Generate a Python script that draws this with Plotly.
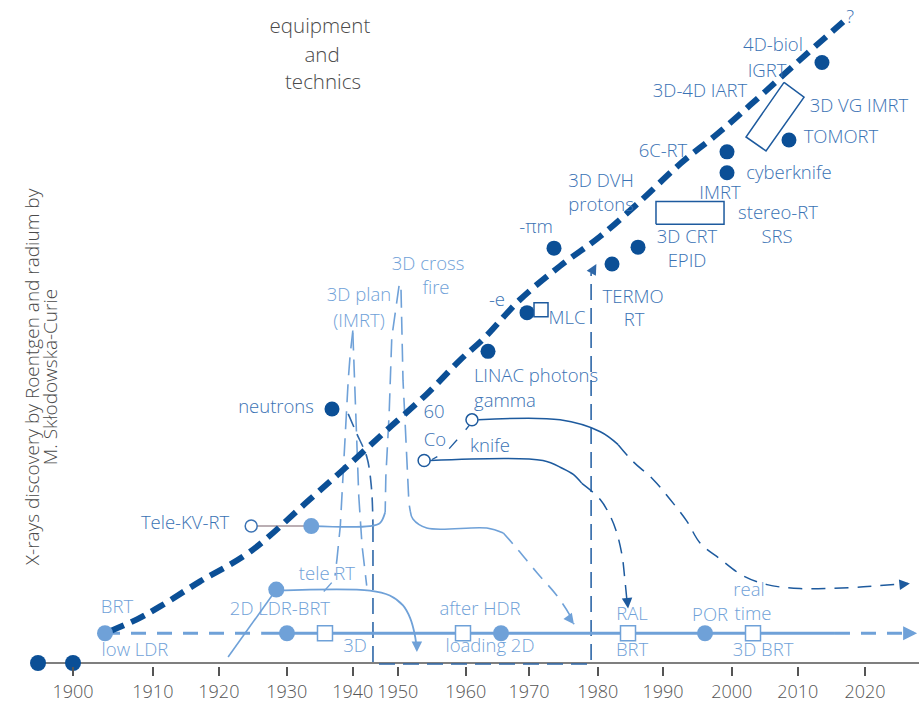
import plotly.graph_objects as go

# Colours
DARK = "#0b4f96"
DARK_LINE = "#1d5a9e"
FRAME = "#2e67a8"
MID = "#3a72b4"
LIGHT = "#6fa1d8"
GRAY = "#4a4a4a"
AXIS = "#555555"
FONT = "Open Sans, Noto Sans, sans-serif"
LABEL_SIZE = 18.5

# x = position on the drawing's time scale (years), y = level above the time axis
x_range = [1888.94, 2028.18]
y_range = [-3, 668]

tick_labels = ["1900", "1910", "1920", "1930", "1940", "1950", "1960",
               "1970", "1980", "1990", "2000", "2010", "2020"]
tick_pos = [1900.0, 1912.1, 1922.1, 1932.4, 1942.4, 1949.2, 1959.5,
            1969.1, 1979.5, 1989.4, 1999.8, 2009.8, 2020.0]

# discovery dots on the time axis
discovery_x = [1894.7, 1900.0]
discovery_y = [0, 0]
axis_line_x = [1894.7, 2028.18]
axis_line_y = [0, 0]

# main "equipment and technics" trend (thick dashed)
trend_x = [1905.6, 1909.7, 1913.2, 1919.2, 1926.8, 1935.9, 1942.0, 1947.6, 1953.6,
           1958.6, 1962.4, 1967.7, 1973.8, 1979.9, 1985.9, 1992.0, 1997.6, 2003.6,
           2009.7, 2016.7]
trend_y = [32, 44, 57, 82, 112, 165, 201, 235, 271, 305, 328, 366, 400, 430, 465,
           503, 533, 568, 605, 646]

# brachytherapy timeline
brt_level = 30
brt_dash1_x = [1904.85, 1928.6]
brt_solid_x = [1928.6, 2015.45]
brt_dash2_x = [2015.45, 2027.4]
brt_dots_x = [1904.85, 1932.42, 1964.85, 1995.76]
brt_squares_x = [1938.18, 1959.09, 1984.09, 2003.03]

# tele RT branch
tele_start_x = [1923.5, 1930.8]
tele_start_y = [6, 74]
tele_dot = ([1930.8], [74])
tele_x = [1930.8, 1945.0, 1948.0, 1950.0, 1951.1, 1951.8, 1952.1]
tele_y = [73, 73, 68, 58, 45, 28, 13]
tele_hook_x = [1938.0, 1939.2]
tele_hook_y = [72, 81]

# Tele-KV-RT branch
kv_open = ([1927.0], [138])
kv_gray_x = [1927.8, 1936.1]
kv_gray_y = [138, 138]
kv_dot = ([1936.1], [138])
kv_x = [1936.1, 1945.0, 1946.5, 1947.3]
kv_y = [138, 138, 141, 152]

# 3D cross fire lines
cross_left_x = [1949.4, 1948.3, 1947.9, 1947.4, 1947.3]
cross_left_y = [380, 328, 251, 188, 152]
cross_right_dash_x = [1949.7, 1950.0, 1950.3, 1950.6, 1950.9, 1951.1]
cross_right_dash_y = [376, 285, 245, 205, 161, 153]
cross_right_solid_x = [1951.1, 1951.5, 1953.6, 1962.7, 1965.2]
cross_right_solid_y = [153, 145, 136, 136, 131]
cross_right_tail_x = [1965.2, 1967.3, 1970.3, 1973.3, 1975.3, 1975.9]
cross_right_tail_y = [131, 115, 91, 68, 48, 39]

# 3D plan (IMRT) lines
plan_left_x = [1942.4, 1942.0, 1941.7, 1941.4, 1941.1, 1940.5, 1940.0, 1939.7]
plan_left_y = [335, 311, 285, 251, 205, 138, 105, 88]
plan_right_x = [1942.4, 1942.9, 1943.3, 1943.8, 1944.5]
plan_right_y = [333, 248, 168, 118, 78]

# dark dashed frame
frame_curve_x = [1941.7, 1943.0, 1944.5, 1945.2, 1945.45]
frame_curve_y = [251, 231, 208, 178, 138]
frame_x = [1945.45, 1945.45, 1978.5, 1978.5]
frame_y = [138, -1, -1, 393]

# 60Co gamma / knife
gamma_open = ([1960.45], [245])
gamma_solid_x = [1961.4, 1973.8, 1979.9, 1982.6]
gamma_solid_y = [245, 245, 233, 220]
gamma_dash_x = [1982.6, 1984.85, 1987.9, 1990.45, 1993.0, 1995.0, 1998.0, 2001.5,
                2005.15, 2010.15, 2017.7, 2022.3, 2026.5]
gamma_dash_y = [220, 203, 185, 165, 143, 121, 105, 88, 79, 75, 76, 78, 80]
knife_open = ([1953.2], [204])
knife_solid_x = [1954.1, 1971.2, 1974.2, 1975.8, 1977.1]
knife_solid_y = [204, 204, 196, 190, 181]
knife_dash_x = [1977.1, 1979.85, 1981.4, 1982.4, 1983.2, 1983.6, 1984.0]
knife_dash_y = [181, 165, 148, 131, 108, 85, 58]
co_slash_x = [1957.0, 1958.2]
co_slash_y = [216, 225]
gamma_tick_x = [1959.5, 1960.1]
gamma_tick_y = [235, 240]
knife_tick_x = [1954.4, 1955.2]
knife_tick_y = [205, 208]

# dark dots (teleradiotherapy modalities)
dark_dots_x = [1939.24, 1962.88, 1968.79, 1972.88, 1981.67, 1985.61, 1999.09,
               1999.09, 2008.48, 2013.48]
dark_dots_y = [256, 314, 353, 418, 402, 419, 494, 515, 527, 605]
mlc_square = ([1970.91], [356])
imrt_box_x = [1988.33, 1998.64]
imrt_box_y = [442, 465]
vg_box_x = [2007.73, 2010.76, 2005.0, 2001.97]
vg_box_y = [585, 570, 516, 530]

# labels
mid_text = ["neutrons", "Tele-KV-RT", "60", "Co", "gamma", "knife", "LINAC photons",
            "-e", "MLC", "-πm", "TERMO", "RT", "3D CRT", "EPID", "3D DVH", "protons",
            "IMRT", "stereo-RT", "SRS", "cyberknife", "6C-RT", "TOMORT", "3D VG IMRT",
            "IGRT", "3D-4D IART", "4D-biol", "?"]
mid_x = [1930.76, 1916.97, 1954.7, 1954.85, 1965.45, 1963.18, 1970.15,
         1964.24, 1974.85, 1970.15, 1984.85, 1985.0, 1993.03, 1993.03, 1980.0, 1980.0,
         1998.03, 2006.82, 2006.67, 2008.48, 1989.39, 2016.36, 2019.09,
         2005.15, 1995.0, 2006.06, 2017.73]
mid_y = [257, 140, 252, 223, 263, 217, 288,
         364, 346, 438, 367, 344, 428, 404, 484, 460,
         472, 452, 428, 492, 514, 529, 560,
         595, 575, 621, 650]

light_text = ["BRT", "low LDR", "2D LDR-BRT", "3D", "after HDR", "loading 2D", "RAL",
              "BRT", "POR", "real", "time", "3D BRT", "tele RT", "3D plan", "(IMRT)",
              "3D cross", "fire"]
light_x = [1906.67, 1909.39, 1931.36, 1942.73, 1961.67, 1963.18, 1984.7,
           1984.7, 1996.52, 2002.42, 2003.03, 2004.55, 1938.48, 1943.33, 1943.33,
           1953.8, 1955.0]
light_y = [55, 12, 53, 16, 53, 16, 48,
           12, 47, 72, 48, 12, 88, 369, 343,
           401, 376]

gray_text = ["equipment", "and", "technics"]
gray_x = [1937.42, 1937.73, 1937.88]
gray_y = [640, 611, 583]

ytitle_lines = ["X-rays discovery by Roentgen and radium by", "M. Skłodowska-Curie"]
ytitle_x = [1893.79, 1896.52]
ytitle_y = 288

fig = go.Figure()


def line(x, y, color, width, dash=None, shape="linear"):
    fig.add_trace(go.Scatter(x=x, y=y, mode="lines",
                             line=dict(color=color, width=width, dash=dash, shape=shape),
                             hoverinfo="skip", showlegend=False, cliponaxis=False))


def marks(x, y, color, size, symbol="circle", fill=None, lw=0):
    fig.add_trace(go.Scatter(x=x, y=y, mode="markers",
                             marker=dict(color=fill if fill else color, size=size, symbol=symbol,
                                         line=dict(color=color, width=lw)),
                             hoverinfo="skip", showlegend=False, cliponaxis=False))


def texts(t, x, y, color, size=LABEL_SIZE):
    fig.add_trace(go.Scatter(x=x, y=y, mode="text", text=t, textposition="middle center",
                             textfont=dict(family=FONT, size=size, color=color, weight=300),
                             hoverinfo="skip", showlegend=False, cliponaxis=False))


# time axis
line(axis_line_x, axis_line_y, AXIS, 1.5)

# thin lines
line(plan_left_x, plan_left_y, LIGHT, 1.6, "18px,9px")
line(plan_right_x, plan_right_y, LIGHT, 1.6, "18px,9px")
line(cross_left_x, cross_left_y, LIGHT, 1.6, "18px,9px")
line(cross_right_dash_x, cross_right_dash_y, LIGHT, 1.6, "18px,9px")
line(cross_right_solid_x, cross_right_solid_y, LIGHT, 1.6, None, "spline")
line(cross_right_tail_x, cross_right_tail_y, LIGHT, 1.6, "14px,9px", "spline")
line(frame_curve_x, frame_curve_y, FRAME, 1.6, "14px,8px", "spline")
line(frame_x, frame_y, FRAME, 1.6, "16px,8px")
line(tele_start_x, tele_start_y, LIGHT, 1.6)
line(tele_x, tele_y, LIGHT, 1.8, None, "spline")
line(tele_hook_x, tele_hook_y, LIGHT, 1.4)
line(kv_gray_x, kv_gray_y, "#a3939a", 1.6)
line(kv_x, kv_y, LIGHT, 1.8, None, "spline")
line(gamma_solid_x, gamma_solid_y, DARK_LINE, 1.5, None, "spline")
line(gamma_dash_x, gamma_dash_y, DARK_LINE, 1.5, "14px,9px", "spline")
line(knife_solid_x, knife_solid_y, DARK_LINE, 1.5, None, "spline")
line(knife_dash_x, knife_dash_y, DARK_LINE, 1.5, "14px,9px", "spline")
line(co_slash_x, co_slash_y, DARK_LINE, 1.3)
line(gamma_tick_x, gamma_tick_y, DARK_LINE, 1.3)
line(knife_tick_x, knife_tick_y, DARK_LINE, 1.3)

# boxes
line(imrt_box_x + imrt_box_x[::-1] + imrt_box_x[:1],
     [imrt_box_y[0], imrt_box_y[0], imrt_box_y[1], imrt_box_y[1], imrt_box_y[0]], DARK_LINE, 1.5)
line(vg_box_x + vg_box_x[:1], vg_box_y + vg_box_y[:1], DARK_LINE, 1.5)

# BRT timeline
line(brt_dash1_x, [brt_level] * 2, LIGHT, 3, "15px,11px")
line(brt_solid_x, [brt_level] * 2, LIGHT, 3)
line(brt_dash2_x, [brt_level] * 2, LIGHT, 3, "15px,11px")

# main trend
line(trend_x, trend_y, DARK, 6, "15px,8px", "spline")

# markers
marks(discovery_x, discovery_y, DARK, 16)
marks(brt_dots_x, [brt_level] * len(brt_dots_x), LIGHT, 16)
marks(brt_squares_x, [brt_level] * len(brt_squares_x), LIGHT, 15, "square", "white", 1.5)
marks(*tele_dot, LIGHT, 16)
marks(*kv_dot, LIGHT, 16)
marks(*kv_open, MID, 12, "circle", "white", 1.5)
marks(*gamma_open, DARK_LINE, 12, "circle", "white", 1.5)
marks(*knife_open, DARK_LINE, 12, "circle", "white", 1.5)
marks(dark_dots_x, dark_dots_y, DARK, 15)
marks(*mlc_square, DARK_LINE, 14, "square", "white", 1.5)

# labels
texts(mid_text, mid_x, mid_y, MID)
texts(light_text, light_x, light_y, LIGHT)
texts(gray_text, gray_x, gray_y, GRAY, 20.5)

# arrow heads
arrows = [
    (2027.9, brt_level, -10, 0, LIGHT, 2),
    (2026.8, 80, -10, 1, DARK_LINE, 1.5),
    (1984.1, 55, -1, -10, DARK_LINE, 1.5),
    (1975.9, 39, -6, -8, LIGHT, 1.5),
    (1952.1, 11, 0, -10, LIGHT, 1.5),
    (1979.3, 402, -5, 9, FRAME, 1.5),
]
for ax_x, ax_y, dx, dy, col, w in arrows:
    fig.add_annotation(x=ax_x, y=ax_y, ax=dx, ay=dy, text="", showarrow=True,
                       arrowhead=2, arrowsize=1.4, arrowwidth=w, arrowcolor=col)

for t, xx in zip(ytitle_lines, ytitle_x):
    fig.add_annotation(x=xx, y=ytitle_y, text=t, showarrow=False, textangle=-90,
                       font=dict(family=FONT, size=19, color=GRAY, weight=300),
                       xanchor="center", yanchor="middle")

fig.update_layout(
    width=919, height=703,
    margin=dict(l=0, r=0, t=0, b=32),
    plot_bgcolor="white", paper_bgcolor="white",
    xaxis=dict(range=x_range, showgrid=False, zeroline=False, showline=False,
               tickmode="array", tickvals=tick_pos, ticktext=tick_labels,
               ticks="outside", ticklen=9, tickwidth=1.5, tickcolor=AXIS,
               tickfont=dict(family=FONT, size=18, color=AXIS, weight=300)),
    yaxis=dict(range=y_range, visible=False),
)

fig.write_html("out.html", config={"displayModeBar": False},
               post_script="document.body.style.margin='0';")
